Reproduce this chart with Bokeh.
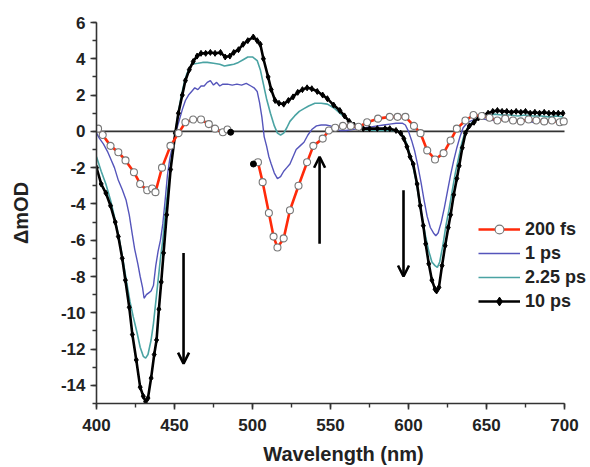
import numpy as np
from bokeh.plotting import figure
from bokeh.models import (Range1d, SingleIntervalTicker, Arrow, OpenHead,
                          ColumnDataSource, Legend, LegendItem)
from bokeh.embed import file_html
from bokeh.resources import INLINE

# ---------------- data ----------------
black_x = [400, 403, 406, 409, 412, 414, 416.5, 418.5, 421, 423, 425.5, 428, 430, 431.5, 433, 435, 437,
           438.5, 440, 441.5, 443, 445, 447.5, 450.5, 452.5, 455, 457, 459.5, 462, 464.5, 467, 470, 473,
           476, 479.5, 482.5, 485.5, 488, 491, 494, 497, 500.5, 503, 505, 507, 510, 512, 514.5, 517, 520,
           523, 526, 529, 532, 535, 538, 541.5, 545, 548, 552, 556, 559, 562, 565, 568, 571, 575, 580,
           585, 588, 592, 595, 597, 599, 601, 603, 605.5, 607.5, 609.5, 611, 613, 615, 617, 618, 619.5,
           621.5, 623.5, 625.5, 627, 629, 631, 632.5, 634.5, 636.5, 639, 642, 645, 648, 651, 654, 657,
           660, 663, 666, 669, 672, 675, 678, 681, 684, 687, 690, 693, 696, 699]
black_y = [-2.0, -2.9, -3.4, -4.1, -5.0, -5.8, -7.0, -8.2, -9.7, -11.2, -12.6, -14.1, -14.6, -14.9, -14.7,
           -13.6, -12.3, -11.5, -9.8, -8.3, -6.7, -4.6, -2.1, -0.1, 1.0, 2.0, 2.8, 3.4, 3.85, 4.15, 4.3,
           4.3, 4.35, 4.3, 4.35, 4.1, 4.15, 4.35, 4.5, 4.8, 5.0, 5.2, 5.0, 4.8, 4.0, 3.0, 2.3, 1.7, 1.55,
           1.5, 1.7, 1.9, 2.15, 2.3, 2.4, 2.35, 2.2, 2.0, 1.8, 1.45, 1.15, 0.85, 0.55, 0.35, 0.2, 0.15,
           0.15, 0.15, 0.15, 0.15, 0.05, -0.1, -0.4, -0.85, -1.4, -1.8, -2.9, -4.1, -5.2, -6.2, -7.3,
           -8.2, -8.7, -8.8, -8.6, -7.4, -6.3, -5.3, -4.6, -3.5, -2.6, -1.9, -0.9, -0.1, 0.3, 0.5, 0.75,
           0.9, 1.0, 1.1, 1.15, 1.1, 1.1, 1.05, 1.1, 1.05, 1.1, 1.0, 1.05, 1.0, 1.05, 1.0, 1.0, 1.0, 1.0]

teal_x = [400, 403, 406, 409, 412, 414.5, 417, 419.5, 421.5, 423.5, 426, 428, 430, 431.5, 433, 435, 436.5,
          438, 439.5, 441, 442.5, 444, 446, 448, 450, 452, 454, 456, 458, 461, 465, 468, 471, 475, 479,
          482, 485, 488, 491, 494, 497, 500, 503, 505, 507, 509, 511.5, 514, 516, 518, 520, 522, 524,
          527, 530, 533, 536, 540, 544, 548, 552, 556, 560, 564, 568, 572, 578, 584, 590, 594, 597, 599,
          601, 603, 605, 607, 609, 611, 613, 615, 617, 618.5, 620, 622, 624, 626, 628, 630, 632, 634,
          636, 639, 642, 646, 650, 655, 660, 665, 670, 675, 680, 685, 690, 695, 699]
teal_y = [-1.4, -2.2, -2.9, -3.8, -4.9, -5.9, -7.1, -8.4, -9.4, -10.2, -11.1, -11.9, -12.4, -12.5, -12.3,
          -11.5, -10.6, -9.4, -8.2, -7.0, -6.0, -4.6, -3.0, -1.6, -0.4, 0.8, 1.8, 2.6, 3.2, 3.7, 3.75,
          3.8, 3.8, 3.75, 3.7, 3.6, 3.65, 3.7, 3.8, 3.95, 4.1, 4.1, 3.9, 3.4, 2.6, 1.8, 1.0, 0.3, -0.1,
          -0.2, -0.1, 0.2, 0.55, 0.85, 1.1, 1.25, 1.4, 1.55, 1.55, 1.5, 1.3, 1.0, 0.7, 0.4, 0.2, 0.1,
          0.05, 0.05, 0.05, 0.0, -0.3, -0.7, -1.3, -2.0, -2.8, -3.9, -4.9, -5.8, -6.6, -7.2, -7.4, -7.5,
          -7.2, -6.3, -5.2, -4.3, -3.3, -2.3, -1.5, -0.7, -0.1, 0.35, 0.6, 0.8, 0.85, 0.95, 0.9, 0.9,
          0.85, 0.9, 0.85, 0.85, 0.8, 0.85, 0.8]

blue_x = [400, 402, 404.5, 407, 409, 411.5, 414, 416.5, 419, 421, 423, 424.5, 426.5, 428, 429.5, 430.5,
          432, 433.5, 435, 436.5, 438, 439.5, 441, 442.5, 444, 445.5, 447, 449, 451, 453, 455, 457, 459,
          461, 463, 465, 467, 469, 471, 473, 475, 477, 479, 481, 484, 487, 490, 493, 496, 499, 501, 503,
          504.5, 506, 507.5, 509, 510.5, 512, 514, 516, 518, 520, 522, 524, 526, 528, 530.5, 533, 535.5,
          538, 541, 544, 547, 550, 553, 556, 560, 564, 568, 572, 576, 580, 584, 588, 592, 596, 598, 600,
          602, 604, 606, 608, 610, 612, 614, 616, 617.5, 619, 621, 623, 625, 627, 629, 631, 633, 635,
          638, 642, 646, 650, 655, 660, 665, 670, 675, 680, 685, 690, 695, 699]
blue_y = [-0.1, -0.4, -0.7, -1.1, -1.5, -2.0, -2.7, -3.2, -3.8, -4.6, -5.7, -6.5, -7.3, -8.0, -8.6, -9.2,
          -9.0, -8.9, -8.8, -8.5, -7.4, -6.6, -6.0, -5.1, -3.8, -2.4, -1.5, -0.7, 0.0, 0.6, 1.2, 1.7, 2.0,
          2.2, 2.4, 2.3, 2.5, 2.5, 2.7, 2.8, 2.55, 2.7, 2.5, 2.6, 2.6, 2.55, 2.6, 2.55, 2.65, 2.5, 2.4,
          2.2, 1.6, 0.8, -0.3, -0.8, -1.4, -1.8, -2.3, -2.6, -2.5, -2.2, -2.0, -1.8, -1.4, -1.0, -0.8,
          -0.6, -0.2, 0.1, 0.3, 0.35, 0.35, 0.3, 0.15, 0.05, 0.05, 0.1, 0.15, 0.2, 0.25, 0.3, 0.35, 0.4,
          0.45, 0.45, 0.35, 0.0, -0.5, -1.1, -1.9, -2.8, -3.8, -4.7, -5.3, -5.6, -5.75, -5.6, -5.0, -4.2,
          -3.3, -2.4, -1.6, -0.9, -0.3, 0.2, 0.5, 0.65, 0.7, 0.65, 0.6, 0.65, 0.6, 0.55, 0.6, 0.5, 0.55,
          0.6, 0.55, 0.6]

# 200 fs: two measured segments (gap between them)
red_x = [401, 404, 409, 414, 418.6, 424, 428, 432.5, 435.7, 437.8, 442, 447.4, 452.6, 457, 462, 467, 472,
         476, 481, 484, float("nan"),
         503.5, 506.5, 510.5, 513.5, 516, 520, 524, 529.5, 535, 539, 545, 549, 553, 558, 563, 568, 573.5,
         580.5, 588, 593, 598, 603.5, 607.7, 612, 617, 622.5, 627, 631, 636.5, 641.7, 647, 652, 657,
         662, 667, 672, 677, 682, 687, 692, 697, 699.5]
red_y = [0.15, -0.2, -0.8, -1.15, -1.6, -2.25, -2.9, -3.25, -3.15, -3.35, -2.0, -0.8, -0.1, 0.5, 0.65,
         0.65, 0.4, 0.15, -0.05, 0.1, float("nan"),
         -1.7, -2.8, -4.5, -5.8, -6.4, -5.9, -4.35, -3.0, -1.7, -0.8, -0.4, 0.05, 0.2, 0.3, 0.3, 0.25,
         0.5, 0.7, 0.8, 0.8, 0.8, 0.3, -0.1, -1.05, -1.55, -1.2, -0.5, 0.15, 0.6, 0.9, 0.85, 0.75, 0.6,
         0.7, 0.6, 0.55, 0.65, 0.6, 0.55, 0.6, 0.5, 0.55]

# isolated black points
dot_x = [486, 500.6]
dot_y = [-0.05, -1.8]

# arrows (wavelength, start value, end value)
arrow_x = [455.8, 543.0, 596.8]
arrow_y0 = [-6.7, -6.2, -3.25]
arrow_y1 = [-12.8, -1.4, -8.0]

series_labels = ["200 fs", "1 ps", "2.25 ps", "10 ps"]
x_ticks = [400, 450, 500, 550, 600, 650, 700]
y_ticks = [6, 4, 2, 0, -2, -4, -6, -8, -10, -12, -14]
y_tick_labels = ["6", "4", "2", "0", "-2", "-4", "-6", "-8", "-10", "-12", "-14"]

# ---------------- figure ----------------
FONT = "Liberation Sans"
W, H = 590, 467
LEFT, TOP, RIGHT_AXIS, BOTTOM = 96, 22, 564, 404
x_lo, x_hi = x_ticks[0], x_ticks[-1]
px_per_nm = (RIGHT_AXIS - LEFT) / (x_hi - x_lo)
x_view_hi = x_hi + (W - RIGHT_AXIS) / px_per_nm   # frame extends to the right edge (room for legend)

p = figure(width=W, height=H, x_range=Range1d(x_lo, x_view_hi), y_range=Range1d(-15, 6),
           output_backend="svg", toolbar_location=None,
           min_border_left=LEFT, min_border_right=0, min_border_top=TOP, min_border_bottom=H - BOTTOM)
p.outline_line_color = None
p.grid.visible = False
p.background_fill_color = "white"
p.border_fill_color = "white"

for ax in (p.xaxis[0], p.yaxis[0]):
    ax.axis_line_color = "#333333"
    ax.axis_line_width = 1.6
    ax.major_tick_line_color = "#333333"
    ax.major_tick_line_width = 1.6
    ax.minor_tick_line_color = "#333333"
    ax.minor_tick_line_width = 1.4
    ax.major_tick_out = 6
    ax.major_tick_in = 0
    ax.minor_tick_out = 4
    ax.minor_tick_in = 0
    ax.major_label_text_font = FONT
    ax.major_label_text_font_style = "bold"
    ax.major_label_text_font_size = "17px"
    ax.major_label_text_color = "#222222"
    ax.axis_label_text_font = FONT
    ax.axis_label_text_font_style = "bold"
    ax.axis_label_text_font_size = "20px"
    ax.axis_label_text_color = "#222222"

p.xaxis.ticker = SingleIntervalTicker(interval=50, num_minor_ticks=2)
p.xaxis.bounds = (x_lo, x_hi)
p.yaxis.ticker = SingleIntervalTicker(interval=2, num_minor_ticks=2)
p.yaxis.major_label_overrides = {v: s for v, s in zip(y_ticks, y_tick_labels)}
p.xaxis.axis_label = "Wavelength (nm)"
p.yaxis.axis_label = "\u0394mOD"
p.xaxis.major_label_standoff = 9
p.xaxis.axis_label_standoff = 9
p.yaxis.major_label_standoff = 5
p.yaxis.axis_label_standoff = 26

# zero line across the wavelength axis
p.segment(x0=[x_lo], y0=[0], x1=[x_hi], y1=[0], line_color="#333333", line_width=1.8)

blue_r = p.line(blue_x, blue_y, line_color="#5555bb", line_width=1.4)
teal_r = p.line(teal_x, teal_y, line_color="#4aa3a3", line_width=1.6)
black_r = p.line(black_x, black_y, line_color="black", line_width=2.6)
black_m = p.scatter(black_x, black_y, marker="diamond", size=6, fill_color="black", line_color="black")
red_r = p.line(red_x, red_y, line_color="#ff2a0a", line_width=2.6)
red_m = p.scatter(red_x, red_y, marker="circle", size=7, fill_color="white", line_color="#777777",
                  line_width=1.1)
p.scatter(dot_x, dot_y, marker="circle", size=6, fill_color="black", line_color="black")

arr_src = ColumnDataSource(dict(x0=arrow_x, y0=arrow_y0, x1=arrow_x, y1=arrow_y1))
p.add_layout(Arrow(source=arr_src, x_start="x0", y_start="y0", x_end="x1", y_end="y1",
                   line_width=2.6, line_color="black",
                   end=OpenHead(size=11, line_width=2.6, line_color="black")))

legend = Legend(items=[
    LegendItem(label=series_labels[0], renderers=[red_r, red_m]),
    LegendItem(label=series_labels[1], renderers=[blue_r]),
    LegendItem(label=series_labels[2], renderers=[teal_r]),
    LegendItem(label=series_labels[3], renderers=[black_r, black_m]),
], location=(382, 91))
legend.padding = 0
legend.margin = 0
legend.border_line_color = None
legend.background_fill_alpha = 0
legend.glyph_width = 42
legend.glyph_height = 22
legend.label_height = 22
legend.spacing = 2
legend.label_standoff = 5
legend.label_text_font = FONT
legend.label_text_font_style = "bold"
legend.label_text_font_size = "18px"
legend.label_text_color = "#222222"
p.add_layout(legend)

open("out.html", "w").write(file_html(p, INLINE))
